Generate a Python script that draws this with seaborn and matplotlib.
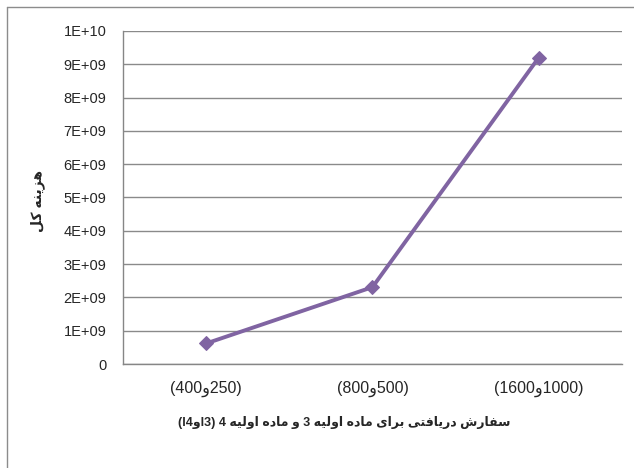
import numpy as np
import pandas as pd
import matplotlib
matplotlib.use("Agg")
import matplotlib.pyplot as plt
import seaborn as sns
from matplotlib.lines import Line2D

# data
categories = ["(400و250)", "(800و500)", "(1600و1000)"]
total_cost = [6.2e8, 2.31e9, 9.2e9]
ytick_vals = [0, 1e9, 2e9, 3e9, 4e9, 5e9, 6e9, 7e9, 8e9, 9e9, 1e10]
ytick_labels = ["0", "1E+09", "2E+09", "3E+09", "4E+09", "5E+09",
                "6E+09", "7E+09", "8E+09", "9E+09", "1E+10"]

# tiny arabic shaper (matplotlib has no bidi / joining support)
FORMS = {
    "ا": ("\uFE8D", "\uFE8E", None, None),
    "ب": ("\uFE8F", "\uFE90", "\uFE91", "\uFE92"),
    "ت": ("\uFE95", "\uFE96", "\uFE97", "\uFE98"),
    "د": ("\uFEA9", "\uFEAA", None, None),
    "ر": ("\uFEAD", "\uFEAE", None, None),
    "ز": ("\uFEAF", "\uFEB0", None, None),
    "س": ("\uFEB1", "\uFEB2", "\uFEB3", "\uFEB4"),
    "ش": ("\uFEB5", "\uFEB6", "\uFEB7", "\uFEB8"),
    "ف": ("\uFED1", "\uFED2", "\uFED3", "\uFED4"),
    "ل": ("\uFEDD", "\uFEDE", "\uFEDF", "\uFEE0"),
    "م": ("\uFEE1", "\uFEE2", "\uFEE3", "\uFEE4"),
    "ن": ("\uFEE5", "\uFEE6", "\uFEE7", "\uFEE8"),
    "ه": ("\uFEE9", "\uFEEA", "\uFEEB", "\uFEEC"),
    "و": ("\uFEED", "\uFEEE", None, None),
    "ی": ("\uFBFC", "\uFBFD", "\uFBFE", "\uFBFF"),
    "ک": ("\uFB8E", "\uFB8F", "\uFB90", "\uFB91"),
}


def shape_word(w):
    out = []
    for i, ch in enumerate(w):
        if ch not in FORMS:
            out.append(ch)
            continue
        prev = w[i - 1] if i > 0 else None
        nxt = w[i + 1] if i + 1 < len(w) else None
        join_prev = prev in FORMS and FORMS[prev][2] is not None
        join_next = nxt in FORMS and FORMS[ch][2] is not None
        iso, fin, ini, med = FORMS[ch]
        if join_prev and join_next:
            out.append(med)
        elif join_prev:
            out.append(fin)
        elif join_next:
            out.append(ini)
        else:
            out.append(iso)
    return "".join(out)[::-1]


def rtl(tokens):
    vis = []
    for t in reversed(tokens):
        if any(c in FORMS for c in t) and not t.startswith("("):
            vis.append(shape_word(t))
        else:
            vis.append(t)
    return " ".join(vis)


xlabel = rtl(["سفارش", "دریافتی", "برای", "ماده", "اولیه", "3", "و",
              "ماده", "اولیه", "4", "(l4وl3)"])
ylabel = rtl(["هزینه", "کل"])

df = pd.DataFrame({"order": categories, "cost": total_cost})

sns.set_style("white")
plt.rcParams["font.family"] = ["Liberation Sans", "DejaVu Sans"]

fig = plt.figure(figsize=(6.34, 4.68), dpi=100)
ax = fig.add_axes([0.194, 0.222, 0.787, 0.712])

sns.lineplot(data=df, x="order", y="cost", ax=ax, color="#8064A2",
             linewidth=2.8, marker="D", markersize=7,
             markeredgecolor="#8064A2", sort=False)

ax.set_ylim(0, 1e10)
ax.set_xlim(-0.5, 2.5)
ax.set_yticks(ytick_vals)
ax.set_yticklabels(ytick_labels, fontsize=10.5)
ax.set_xticks(range(len(categories)))
ax.set_xticklabels(categories, fontsize=11.5)
ax.set_xticks([-0.5, 0.5, 1.5, 2.5], minor=True)
ax.tick_params(axis="x", which="major", length=0, pad=12)
ax.tick_params(axis="x", which="minor", length=5, color="#868686", width=1)
ax.tick_params(axis="y", length=6, color="#868686", width=1, pad=6)

ax.yaxis.grid(True, color="#8a8a8a", linewidth=1)
ax.set_axisbelow(True)
for s in ["top", "right"]:
    ax.spines[s].set_visible(False)
for s in ["left", "bottom"]:
    ax.spines[s].set_color("#868686")
    ax.spines[s].set_linewidth(1)

ax.set_xlabel(xlabel, fontsize=9, fontweight="bold")
ax.xaxis.set_label_coords(0.443, -0.155)
ax.set_ylabel(ylabel, fontsize=10, fontweight="bold")
ax.yaxis.set_label_coords(-0.156, 0.49)

# outer chart frame
fig.add_artist(Line2D([7 / 634, 7 / 634], [0, 1 - 7 / 468],
                      color="#8c8c8c", linewidth=1))
fig.add_artist(Line2D([7 / 634, 1], [1 - 7 / 468, 1 - 7 / 468],
                      color="#8c8c8c", linewidth=1))

fig.savefig("out.png", dpi=100)
